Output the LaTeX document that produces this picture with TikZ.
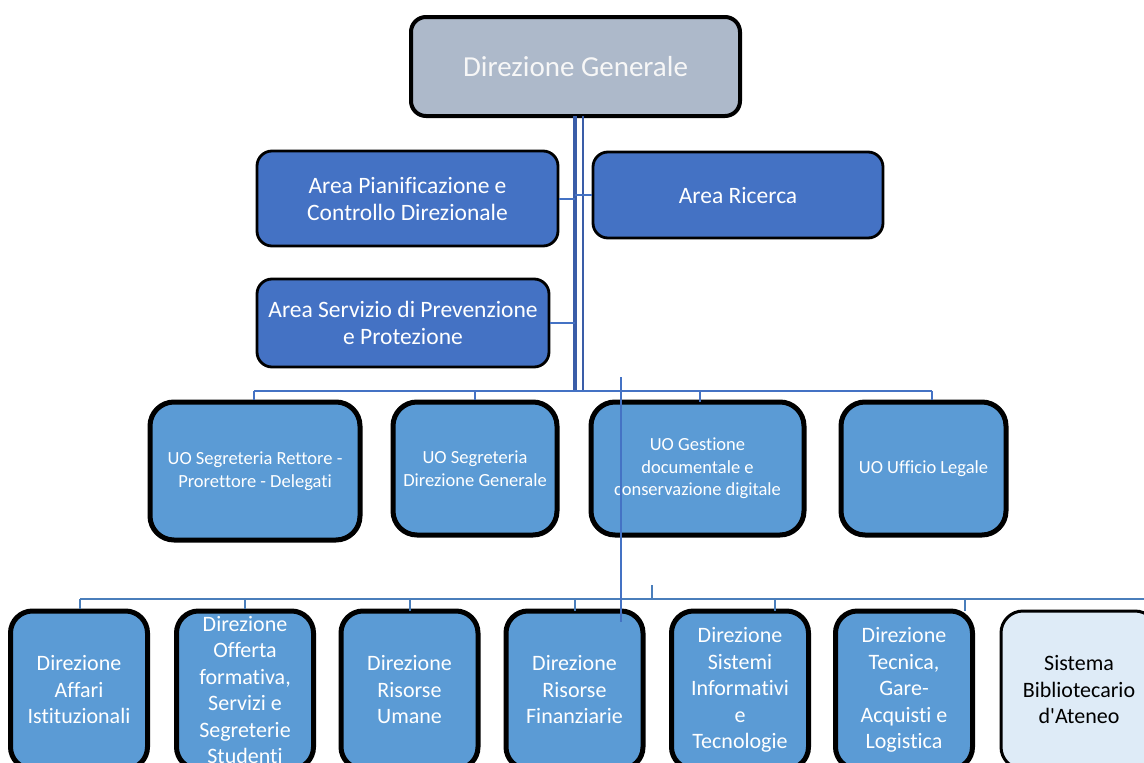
\documentclass[tikz,border=0pt]{standalone}
\usepackage{fontspec}
\setmainfont{Carlito}[Ligatures={TeXOff,NoCommon}]
\definecolor{dgfill}{HTML}{ADB9CA}
\definecolor{areafill}{HTML}{4472C4}
\definecolor{uofill}{HTML}{5B9BD5}
\definecolor{libfill}{HTML}{DEEBF7}
\definecolor{linkc}{HTML}{4472C4}
\definecolor{trunkc}{HTML}{3A5DA8}
\definecolor{busc}{HTML}{4A7EBB}
\tikzset{
  box/.style={draw=black, rounded corners=15pt, inner sep=0pt, align=center, text=white},
  dgbox/.style={box, fill=dgfill, line width=4pt, font=\fontsize{29}{34}\selectfont, text=white!97!black},
  areabox/.style={box, fill=areafill, line width=2.8pt, font=\fontsize{23.5}{27}\selectfont},
  uobox/.style={box, fill=uofill, line width=5pt, rounded corners=24pt, font=\fontsize{18.5}{22.5}\selectfont},
  dirbox/.style={box, fill=uofill, line width=5pt, rounded corners=22pt, font=\fontsize{22}{26.5}\selectfont, minimum width=137pt, minimum height=158pt},
  libbox/.style={dirbox, fill=libfill, line width=3pt, text=black},
  link/.style={draw=linkc, line width=2pt},
  buslink/.style={draw=busc, line width=2.2pt},
}
\begin{document}
\begin{tikzpicture}[x=1pt,y=-1pt]
\clip (0,0) rectangle (1144,763);
\fill[white] (0,0) rectangle (1144,763);

% ---- nodes
\node[dgbox, minimum width=329pt, minimum height=99pt] (dg) at (575.5,66.5) {Direzione Generale};
\node[areabox, minimum width=301pt, minimum height=95pt] (apc) at (407.5,198.5) {Area Pianificazione e\\Controllo Direzionale};
\node[areabox, minimum width=290pt, minimum height=86pt] (ar) at (738,195) {Area Ricerca};
\node[areabox, minimum width=292pt, minimum height=88pt] (asp) at (403,323) {Area Servizio di Prevenzione\\e Protezione};

\node[uobox, minimum width=210pt, minimum height=138pt] (uo1) at (255,471) {UO Segreteria Rettore -\\Prorettore - Delegati};
\node[uobox, minimum width=164pt, minimum height=133pt] (uo2) at (475,468.5) {UO Segreteria\\Direzione Generale};
\node[uobox, minimum width=213pt, minimum height=133pt] (uo3) at (697.5,468.5) {UO Gestione\\documentale e\\conservazione digitale};
\node[uobox, minimum width=165pt, minimum height=133pt] (uo4) at (923.5,468.5) {UO Ufficio Legale};

\node[dirbox] (d1) at (79,690) {Direzione\\Affari\\Istituzionali};
\node[dirbox] (d2) at (245,690) {Direzione\\Offerta\\formativa,\\Servizi e\\Segreterie\\Studenti};
\node[dirbox] (d3) at (409.5,690) {Direzione\\Risorse\\Umane};
\node[dirbox] (d4) at (574.5,690) {Direzione\\Risorse\\Finanziarie};
\node[dirbox] (d5) at (740,690) {Direzione\\Sistemi\\Informativi\\e\\Tecnologie};
\node[dirbox] (d6) at (904,690) {Direzione\\Tecnica,\\Gare-\\Acquisti e\\Logistica};
\node[libbox, minimum width=156pt] (d7) at (1079,690) {Sistema\\Bibliotecario\\d'Ateneo};

% ---- coordinates
\coordinate (tL) at (575,116);
\coordinate (tR) at (583,116);
\coordinate (bL) at (575,391);
\coordinate (bR) at (583,391);
\coordinate (uoW) at (254,391);
\coordinate (uoE) at (932,391);
\coordinate (dW) at (80,599);
\coordinate (dE) at (1150,599);
\coordinate (sT) at (621,377);
\coordinate (sB) at (621,622);
\coordinate (kT) at (652,585);
\coordinate (kB) at (652,599);

% ---- trunk (double line)
\draw[draw=trunkc, line width=4pt] (tL) -- (bL);
\draw[draw=trunkc, line width=2.5pt] (tR) -- (bR);

% ---- area links
\draw[link] (apc.east) -- (apc.east -| tL);
\draw[link] (tL |- ar.west) -- (ar.west);
\draw[link] (asp.east) -- (asp.east -| tL);

% ---- UO bus
\draw[link] (uoW) -- (uoE);
\draw[link] (uoW) -- (uoW |- uo1.north);
\draw[link] (uo2.north |- uoW) -- (uo2.north);
\draw[link] (700,391) -- (700,402);
\draw[link] (uoE) -- (uoE |- uo4.north);

% ---- Direzioni bus
\draw[buslink] (dW) -- (dE);
\draw[buslink] (dW) -- (dW |- d1.north);
\draw[buslink] (d2.north |- dW) -- (d2.north);
\draw[buslink] (410,599) -- (410,611);
\draw[buslink] (575,599) -- (575,611);
\draw[buslink] (775,599) -- (775,611);
\draw[buslink] (965,599) -- (965,611);
\draw[buslink, line width=1.5pt] (kT) -- (kB);

% ---- stray line
\draw[draw=linkc, line width=2.2pt] (sT) -- (sB);
\end{tikzpicture}
\end{document}
